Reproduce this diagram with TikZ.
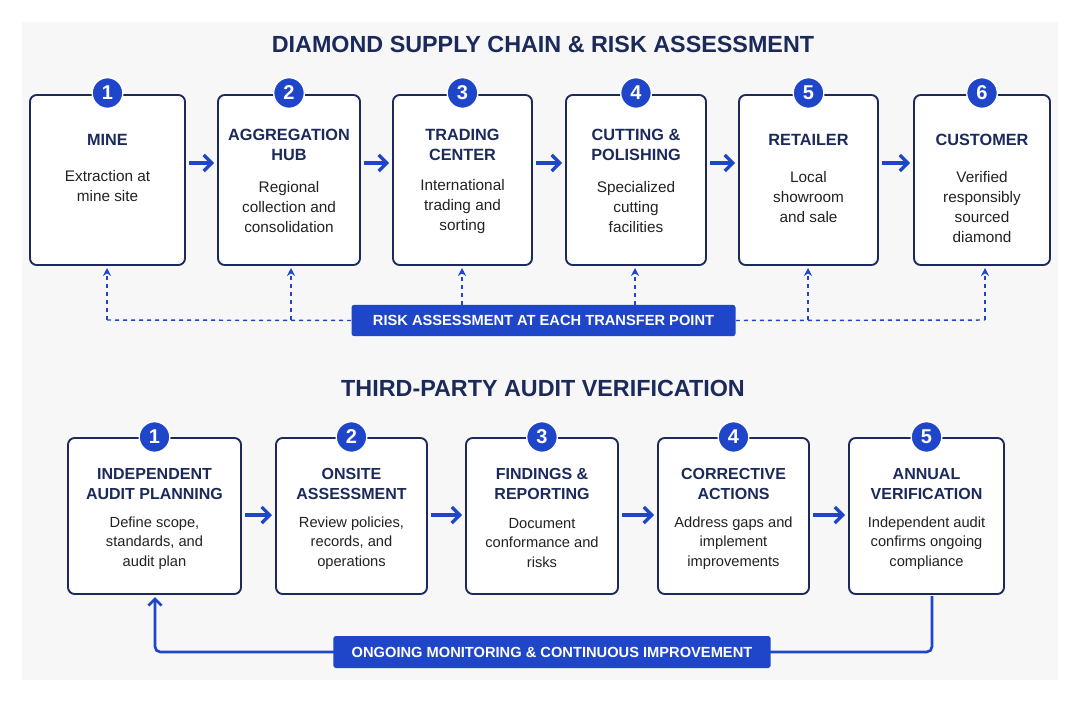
\documentclass[tikz,border=0pt]{standalone}
\usepackage{fontspec}
\setmainfont{Liberation Sans}
\usetikzlibrary{arrows.meta}
\definecolor{navy}{HTML}{1B2A5A}
\definecolor{blu}{HTML}{1F45C8}
\definecolor{txt}{HTML}{222222}
\begin{document}
\begin{tikzpicture}[x=0.75pt,y=-0.75pt,
 box/.style={draw=navy,line width=1.4pt,rounded corners=5pt,fill=white},
 num/.style={circle,fill=blu,draw=white,line width=1pt,minimum size=23pt,inner sep=0,text=white,font=\bfseries\fontsize{15}{15}\selectfont},
 head/.style={text=navy,font=\bfseries\fontsize{12.2}{15}\selectfont,align=center},
 body/.style={text=txt,font=\fontsize{11.5}{15}\selectfont,align=center},
 arr/.style={draw=blu,line width=2.4pt,-{Straight Barb[length=6pt,width=12pt]}},
 darr/.style={draw=blu,line width=1.1pt,dashed,-{Stealth[length=6pt,width=6pt]}},
 dl/.style={draw=blu,line width=1.1pt,dashed},
 banner/.style={fill=blu,rounded corners=2pt,text=white,font=\bfseries\fontsize{11}{13}\selectfont,inner sep=0},
 title/.style={text=navy,font=\bfseries\fontsize{17.5}{19}\selectfont}]
\useasboundingbox (0,0) rectangle (1080,702);
\fill[white] (0,0) rectangle (1080,702);
\fill[gray!6] (22,22) rectangle (1058,680);
\node[title] (t1) at (543,44) {DIAMOND SUPPLY CHAIN \& RISK ASSESSMENT};
\node[title] (t2) at (543,388) {THIRD-PARTY AUDIT VERIFICATION};
% top boxes
\foreach \n/\a/\b/\h/\hy/\t/\ty in {
 1/30/185/MINE/140/{Extraction at\\mine site}/186,
 2/218/360/{AGGREGATION\\HUB}/145/{Regional\\collection and\\consolidation}/207,
 3/393/532/{TRADING\\CENTER}/145/{International\\trading and\\sorting}/207,
 4/566/706/{CUTTING \&\\POLISHING}/145/{Specialized\\cutting\\facilities}/207,
 5/739/878/RETAILER/140/{Local\\showroom\\and sale}/197,
 6/914/1050/CUSTOMER/140/{Verified\\responsibly\\sourced\\diamond}/207}{
 \draw[box] (\a,95) rectangle (\b,265);
 \coordinate (s\n) at ({(\a+\b)/2},265);
 \coordinate (sl\n) at (\a,163); \coordinate (sr\n) at (\b,163);
 \node[num] (n\n) at ({(\a+\b)/2},93) {\n};
 \node[head] (h\n) at ({(\a+\b)/2},\hy) {\h};
 \node[body] (d\n) at ({(\a+\b)/2},\ty) {\t};
}
\foreach \i/\j in {1/2,2/3,3/4,4/5,5/6}{\draw[arr] ([xshift=3pt]sr\i) -- ([xshift=-3pt]sl\j);}
\node[banner,minimum width=288pt,minimum height=23.5pt] (rb) at (543.5,320.5) {RISK ASSESSMENT AT EACH TRANSFER POINT};
\coordinate (c1) at (107,320); \coordinate (c6) at (985,320);
\coordinate (c2) at (291,320); \coordinate (c5) at (808,320);
\draw[dl] (rb.west) -- (c1); \draw[dl] (rb.east) -- (c6);
\draw[darr] (c1) -- (107,268);
\draw[darr] (c2) -- (291,268);
\draw[darr] (462,305) -- (462,268);
\draw[darr] (635,305) -- (635,268);
\draw[darr] (c5) -- (808,268);
\draw[darr] (c6) -- (985,268);
% bottom boxes
\foreach \n/\a/\b/\h/\t in {
 1/68/241/{INDEPENDENT\\AUDIT PLANNING}/{Define scope,\\standards, and\\audit plan},
 2/276/427/{ONSITE\\ASSESSMENT}/{Review policies,\\records, and\\operations},
 3/466/618/{FINDINGS \&\\REPORTING}/{Document\\conformance and\\risks},
 4/658/809/{CORRECTIVE\\ACTIONS}/{Address gaps and\\implement\\improvements},
 5/849/1004/{ANNUAL\\VERIFICATION}/{Independent audit\\confirms ongoing\\compliance}}{
 \draw[box] (\a,438) rectangle (\b,594);
 \coordinate (bl\n) at (\a,515); \coordinate (br\n) at (\b,515);
 \node[num] (m\n) at ({(\a+\b)/2},437) {\n};
 \node[head,font=\bfseries\fontsize{12}{14.5}\selectfont] (g\n) at ({(\a+\b)/2},484) {\h};
 \node[body,font=\fontsize{11}{14.5}\selectfont] (e\n) at ({(\a+\b)/2},543) {\t};
}
\foreach \i/\j in {1/2,2/3,3/4,4/5}{\draw[arr] ([xshift=3pt]br\i) -- ([xshift=-3pt]bl\j);}
\coordinate (b5b) at (932,596); \coordinate (b1b) at (155,597);
\draw[draw=blu,line width=2pt,rounded corners=4pt,-{Straight Barb[length=5pt,width=10pt]}] (b5b) -- (932,652) -- (155,652) -- (b1b);
\node[banner,minimum width=328pt,minimum height=24pt] (ob) at (552,652) {ONGOING MONITORING \& CONTINUOUS IMPROVEMENT};
\end{tikzpicture}
\end{document}
